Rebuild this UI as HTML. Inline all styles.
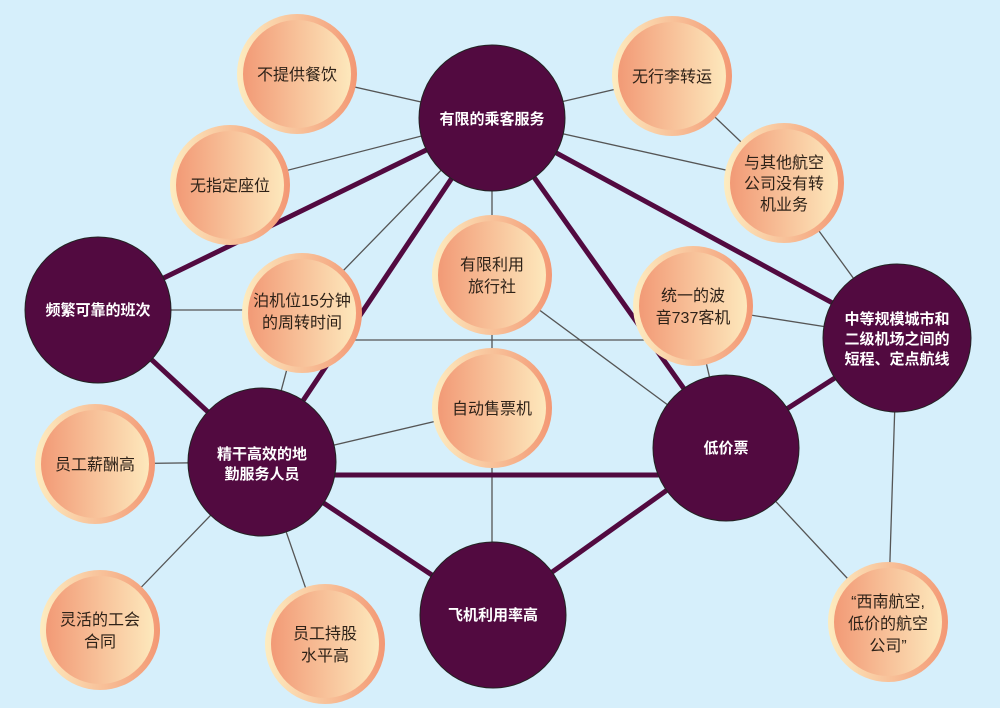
<!DOCTYPE html>
<html><head><meta charset="utf-8"><style>
html,body{margin:0;padding:0;background:#d6effb;}
svg{display:block}
text{font-family:"Liberation Sans","Noto Sans CJK SC",sans-serif;}
.o{font-size:16px;fill:#2e2218;text-anchor:middle}
.d{font-size:15px;fill:#fff;font-weight:bold;text-anchor:middle}
</style></head><body>
<svg width="1000" height="708" viewBox="0 0 1000 708" xmlns="http://www.w3.org/2000/svg">
<defs>
<linearGradient id="gi" x1="0" x2="1" y1="0" y2="0"><stop offset="0" stop-color="#f29a76"/><stop offset="1" stop-color="#fde8bc"/></linearGradient>
<linearGradient id="go" x1="0" x2="1" y1="0" y2="0"><stop offset="0" stop-color="#fdecc0"/><stop offset="1" stop-color="#f39874"/></linearGradient>
</defs>
<rect width="1000" height="708" fill="#d6effb"/>
<g stroke="#555" stroke-width="1.3">
<line x1="297" y1="74" x2="492" y2="118"/>
<line x1="230" y1="185" x2="492" y2="118"/>
<line x1="672" y1="76" x2="492" y2="118"/>
<line x1="784" y1="183" x2="492" y2="118"/>
<line x1="672" y1="76" x2="784" y2="183"/>
<line x1="784" y1="183" x2="897" y2="338"/>
<line x1="302" y1="313" x2="492" y2="118"/>
<line x1="98" y1="310" x2="302" y2="310"/>
<line x1="302" y1="340" x2="693" y2="340"/>
<line x1="302" y1="313" x2="262" y2="462"/>
<line x1="492" y1="118" x2="492" y2="615"/>
<line x1="492" y1="275" x2="726" y2="448"/>
<line x1="693" y1="306" x2="897" y2="338"/>
<line x1="693" y1="306" x2="726" y2="448"/>
<line x1="492" y1="408" x2="262" y2="462"/>
<line x1="95" y1="464" x2="262" y2="462"/>
<line x1="100" y1="630" x2="262" y2="462"/>
<line x1="325" y1="644" x2="262" y2="462"/>
<line x1="888" y1="622" x2="726" y2="448"/>
<line x1="888" y1="622" x2="897" y2="338"/>
</g>
<g stroke="#520a40" stroke-width="5">
<line x1="492" y1="118" x2="98" y2="310"/>
<line x1="492" y1="118" x2="897" y2="338"/>
<line x1="492" y1="118" x2="262" y2="462"/>
<line x1="492" y1="118" x2="726" y2="448"/>
<line x1="98" y1="310" x2="262" y2="462"/>
<line x1="262" y1="475" x2="726" y2="475"/>
<line x1="262" y1="462" x2="492" y2="615"/>
<line x1="492" y1="615" x2="726" y2="448"/>
<line x1="726" y1="448" x2="897" y2="338"/>
</g>
<g fill="#520a40" stroke="#222" stroke-width="1">
<circle cx="492" cy="118" r="73"/>
<circle cx="98" cy="310" r="73"/>
<circle cx="897" cy="338" r="74"/>
<circle cx="262" cy="462" r="74"/>
<circle cx="726" cy="448" r="73"/>
<circle cx="493" cy="615" r="73"/>
</g>
<g>
<g transform="translate(297,74)"><circle r="60" fill="url(#go)"/><circle r="54" fill="url(#gi)"/></g>
<g transform="translate(230,185)"><circle r="60" fill="url(#go)"/><circle r="54" fill="url(#gi)"/></g>
<g transform="translate(672,76)"><circle r="60" fill="url(#go)"/><circle r="54" fill="url(#gi)"/></g>
<g transform="translate(784,183)"><circle r="60" fill="url(#go)"/><circle r="54" fill="url(#gi)"/></g>
<g transform="translate(302,313)"><circle r="60" fill="url(#go)"/><circle r="54" fill="url(#gi)"/></g>
<g transform="translate(492,275)"><circle r="60" fill="url(#go)"/><circle r="54" fill="url(#gi)"/></g>
<g transform="translate(693,306)"><circle r="60" fill="url(#go)"/><circle r="54" fill="url(#gi)"/></g>
<g transform="translate(492,408)"><circle r="60" fill="url(#go)"/><circle r="54" fill="url(#gi)"/></g>
<g transform="translate(95,464)"><circle r="60" fill="url(#go)"/><circle r="54" fill="url(#gi)"/></g>
<g transform="translate(100,630)"><circle r="60" fill="url(#go)"/><circle r="54" fill="url(#gi)"/></g>
<g transform="translate(325,644)"><circle r="60" fill="url(#go)"/><circle r="54" fill="url(#gi)"/></g>
<g transform="translate(888,622)"><circle r="60" fill="url(#go)"/><circle r="54" fill="url(#gi)"/></g>
</g>
<text class="d" x="492" y="124">有限的乘客服务</text>
<text class="d" x="98" y="315">频繁可靠的班次</text>
<text class="d" x="897" y="324">中等规模城市和</text>
<text class="d" x="897" y="344">二级机场之间的</text>
<text class="d" x="897" y="364">短程、定点航线</text>
<text class="d" x="262" y="459">精干高效的地</text>
<text class="d" x="262" y="479">勤服务人员</text>
<text class="d" x="726" y="453">低价票</text>
<text class="d" x="493" y="620">飞机利用率高</text>
<text class="o" x="297" y="80">不提供餐饮</text>
<text class="o" x="230" y="191">无指定座位</text>
<text class="o" x="672" y="82">无行李转运</text>
<text class="o" x="784" y="168">与其他航空</text>
<text class="o" x="784" y="189">公司没有转</text>
<text class="o" x="784" y="210">机业务</text>
<text class="o" x="302" y="306">泊机位15分钟</text>
<text class="o" x="302" y="328">的周转时间</text>
<text class="o" x="492" y="270">有限利用</text>
<text class="o" x="492" y="292">旅行社</text>
<text class="o" x="693" y="301">统一的波</text>
<text class="o" x="693" y="323">音737客机</text>
<text class="o" x="492" y="414">自动售票机</text>
<text class="o" x="95" y="470">员工薪酬高</text>
<text class="o" x="100" y="625">灵活的工会</text>
<text class="o" x="100" y="647">合同</text>
<text class="o" x="325" y="639">员工持股</text>
<text class="o" x="325" y="661">水平高</text>
<text class="o" x="888" y="607">“西南航空,</text>
<text class="o" x="888" y="629">低价的航空</text>
<text class="o" x="888" y="651">公司”</text>
</svg>
</body></html>
